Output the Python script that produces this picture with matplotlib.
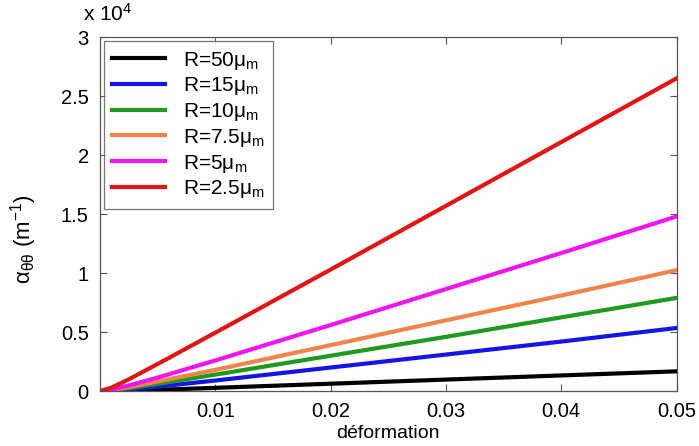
import numpy as np
import matplotlib
matplotlib.use("Agg")
import matplotlib.pyplot as plt

plt.rcParams['font.family'] = ['Liberation Sans', 'DejaVu Sans']
plt.rcParams['mathtext.fontset'] = 'custom'
plt.rcParams['mathtext.rm'] = 'Liberation Sans'
plt.rcParams['mathtext.it'] = 'Liberation Sans:italic'

# deformation values (x) and alpha_thetatheta values in units of 1e4 m^-1
strain = [0, 0.001, 0.0025, 0.005, 0.01, 0.02, 0.03, 0.04, 0.05]
alpha_R50 = [0, 0.001, 0.004, 0.011, 0.028, 0.063, 0.098, 0.133, 0.168]
alpha_R15 = [0, 0.004, 0.014, 0.038, 0.090, 0.200, 0.310, 0.420, 0.535]
alpha_R10 = [0, 0.007, 0.025, 0.062, 0.140, 0.300, 0.460, 0.625, 0.790]
alpha_R75 = [0, 0.010, 0.034, 0.082, 0.180, 0.390, 0.600, 0.810, 1.025]
alpha_R5 = [0, 0.014, 0.048, 0.115, 0.260, 0.560, 0.865, 1.170, 1.480]
alpha_R25 = [0, 0.030, 0.100, 0.230, 0.495, 1.030, 1.570, 2.110, 2.650]

labels = ['R=50', 'R=15', 'R=10', 'R=7.5', 'R=5', 'R=2.5']
series = [alpha_R50, alpha_R15, alpha_R10, alpha_R75, alpha_R5, alpha_R25]
colors = ['#000000', '#1414e6', '#1e9a1e', '#f0844a', '#f014f0', '#e31414']

fig = plt.figure(figsize=(6.99, 4.46), dpi=100)
ax = fig.add_axes([0.143, 0.123, 0.825, 0.794])

for lab, vals, col in zip(labels, series, colors):
    ax.plot(strain, np.array(vals) * 1e4, color=col, lw=3,
            label=lab + r'$\mathrm{\mu}_{\mathrm{m}}$')

ax.set_xlim(0, 0.05)
ax.set_ylim(0, 3e4)
ax.set_xticks([0.01, 0.02, 0.03, 0.04, 0.05])
ax.set_xticklabels(['0.01', '0.02', '0.03', '0.04', '0.05'])
yt = [0, 0.5, 1, 1.5, 2, 2.5, 3]
ax.set_yticks([v * 1e4 for v in yt])
ax.set_yticklabels(['0', '0.5', '1', '1.5', '2', '2.5', '3'])
ax.tick_params(direction='in', top=True, right=True, length=5, labelsize=14.5,
               width=0.8, color='#555555', pad=8)
for s in ax.spines.values():
    s.set_color('#555555')
    s.set_linewidth(0.9)

ax.text(-0.03, 1.035, r'x 10$^{4}$', transform=ax.transAxes, fontsize=15,
        ha='left', va='bottom')
ax.set_xlabel('déformation', fontsize=14, labelpad=3)
ax.set_ylabel(r'$\mathrm{\alpha}_{\mathrm{\theta\theta}}$ (m$^{-1}$)',
              fontsize=16, labelpad=14)
ax.yaxis.set_label_coords(-0.105, 0.43)

leg = ax.legend(loc='upper left', fontsize=15, frameon=True, fancybox=False,
                edgecolor='#555555', handlelength=2.5, borderaxespad=0.2,
                labelspacing=0.18, handletextpad=0.9, borderpad=0.4)
leg.get_frame().set_linewidth(0.9)

fig.savefig('out.png', dpi=100)
